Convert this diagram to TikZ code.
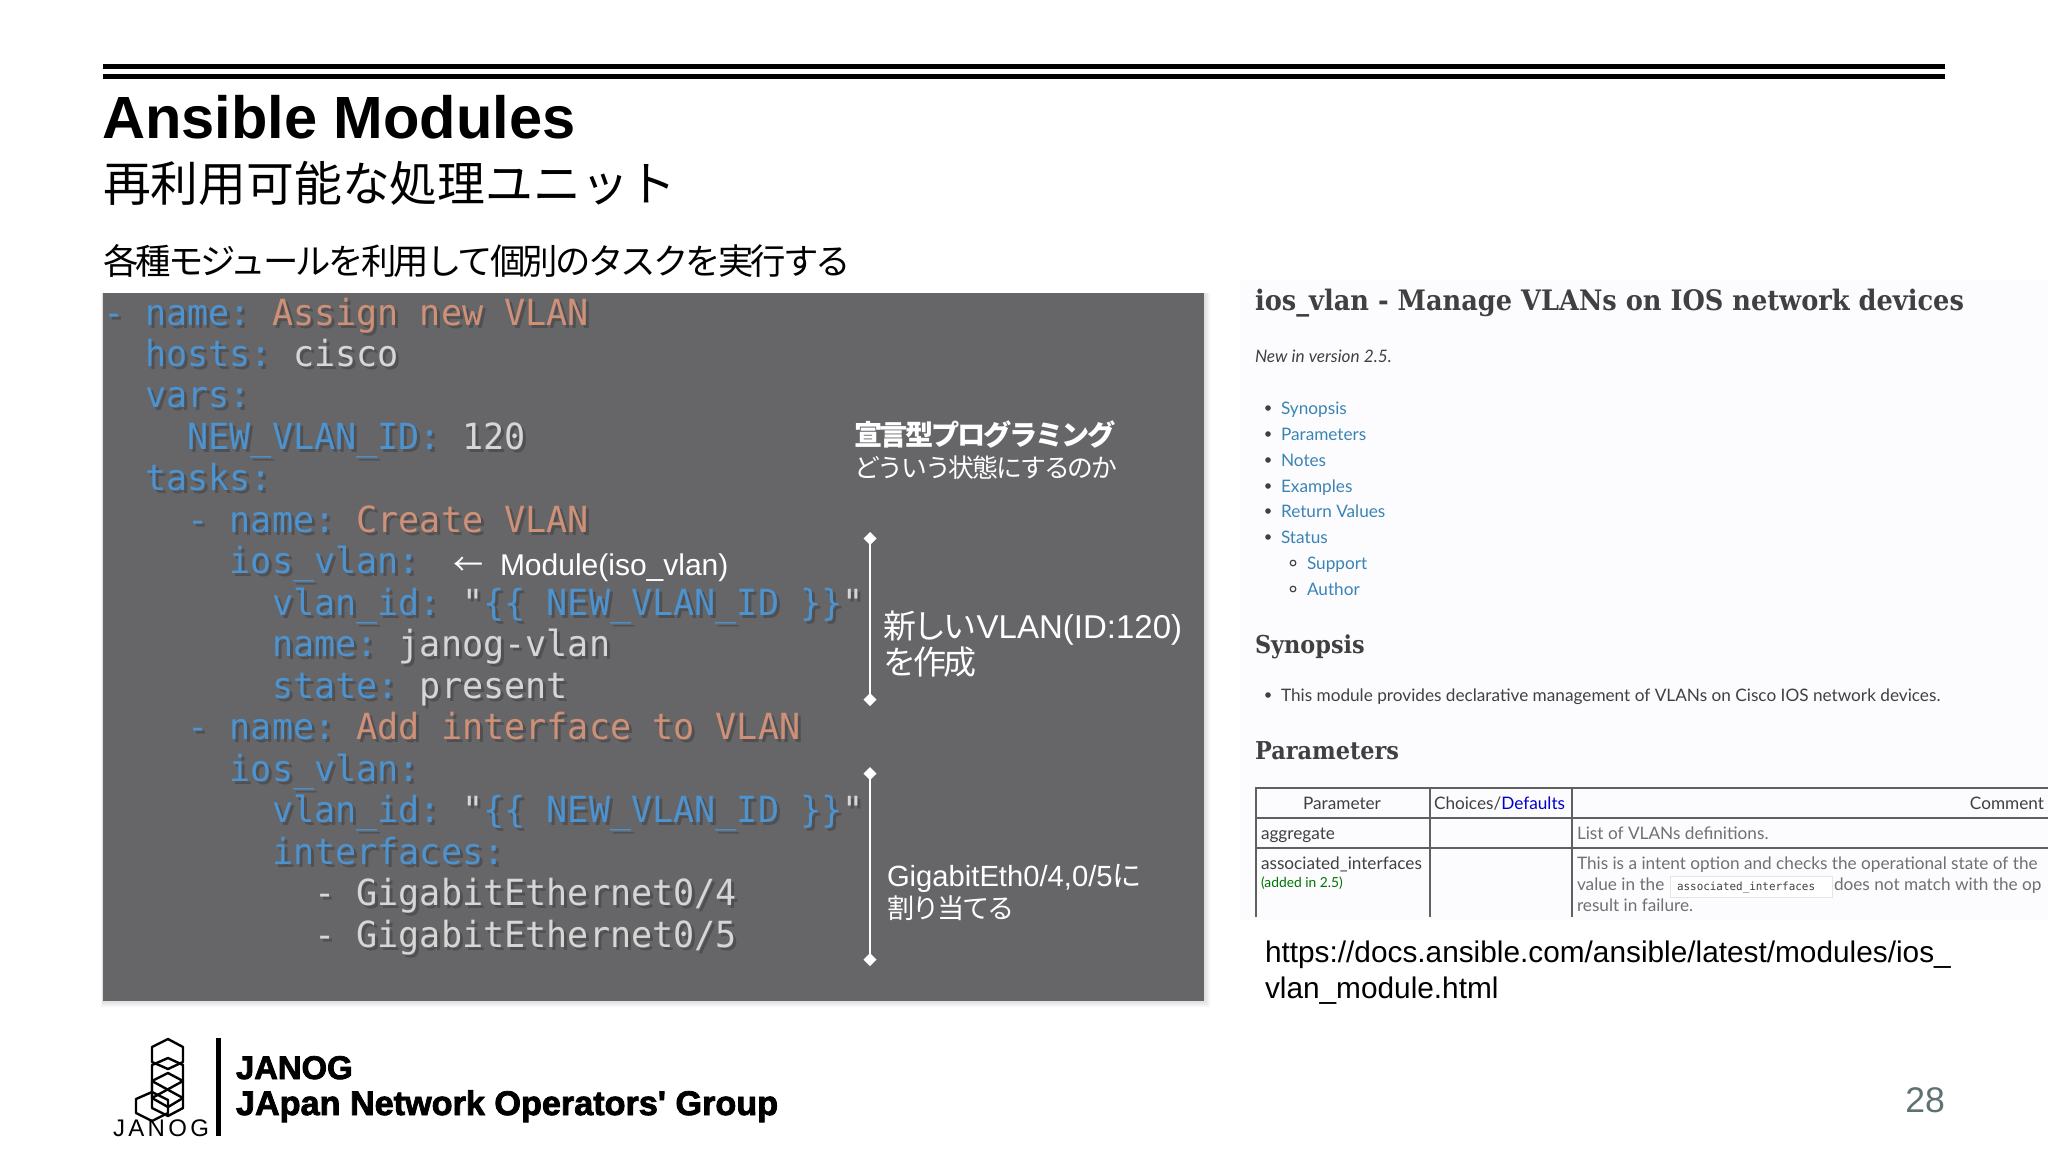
\documentclass[tikz,border=0pt]{standalone}
\usepackage{fontspec}
\usetikzlibrary{arrows.meta}
\setmainfont{Liberation Sans}
\newfontfamily\jpfont[LetterSpace=-8]{Noto Sans CJK JP}
\newfontfamily\jpwide{Noto Sans CJK JP}
\newfontfamily\codefont[FakeStretch=0.975]{DejaVu Sans Mono}
\newfontfamily\slabfont[FakeStretch=0.91]{DejaVu Serif}
\newfontfamily\docfont{Lato}
\newfontfamily\heavyfont[FakeBold=2.4]{Liberation Sans}
\newfontfamily\logofont[LetterSpace=14]{Liberation Sans}
\definecolor{panelgrey}{HTML}{666568}
\definecolor{codekey}{HTML}{4C93CF}
\definecolor{codeval}{HTML}{CE9178}
\definecolor{codetxt}{HTML}{D6D6D6}
\definecolor{textshade}{HTML}{505053}
\definecolor{doctext}{HTML}{404040}
\definecolor{doclink}{HTML}{3A84B5}
\definecolor{docback}{HTML}{FCFCFE}
\definecolor{tableline}{HTML}{606060}
\definecolor{pagenum}{HTML}{5E7371}
\tikzset{
  plain/.style={anchor=base west,inner sep=0pt,outer sep=0pt},
  codetext/.style={plain,font=\codefont\fontsize{18}{18}\selectfont\frenchspacing},
  note/.style={plain,text=white},
  brace/.style={draw=white,line width=1pt,{Diamond[width=6.5pt,length=6.5pt]}-{Diamond[width=6.5pt,length=6.5pt]}},
  doc/.style={plain,text=doctext,font=\docfont\fontsize{8.6}{8.6}\selectfont},
  toc/.style={doc,text=doclink},
  dochead/.style={plain,text=doctext,font=\slabfont\bfseries\fontsize{14.1}{14.1}\selectfont},
  subhead/.style={dochead,font=\slabfont\bfseries\fontsize{12.3}{12.3}\selectfont},
  tablerule/.style={draw=tableline,line width=.7pt},
  logoline/.style={draw=black,line width=1.2pt,line join=round}
}
\newcommand{\ck}[1]{{\color{codekey}#1}}
\newcommand{\cv}[1]{{\color{codeval}#1}}
\newcommand{\codeline}[2]{%
  \node[codetext] (shade#1) at (106,{328+41.47*(#1-1)})
    {\colorlet{codekey}{textshade}\colorlet{codeval}{textshade}\color{textshade}#2};
  \node[codetext,text=codetxt] (code#1) at (103,{325+41.47*(#1-1)}) {#2};
}
\begin{document}
\begin{tikzpicture}[x=.5pt,y=-.5pt]
  \useasboundingbox[fill=white] (0,0) rectangle (2048,1152);
  \fill[docback] (1240,280) rectangle (2048,920);

  % head
  \coordinate (ruleA) at (103,66.5);
  \coordinate (ruleB) at (1945,66.5);
  \coordinate (ruleC) at (103,76.5);
  \coordinate (ruleD) at (1945,76.5);
  \draw[line width=2.6pt] (ruleA) -- (ruleB);
  \draw[line width=2.6pt] (ruleC) -- (ruleD);
  \node[plain,font=\bfseries\fontsize{29.8}{29.8}\selectfont] (title) at (102,138.5) {Ansible Modules};
  \node[plain,font=\jpwide\fontsize{23.9}{23.9}\selectfont] (subtitle) at (103,201) {再利用可能な処理ユニット};
  \node[plain,font=\jpfont\fontsize{17.7}{17.7}\selectfont] (lead) at (103,274) {各種モジュールを利用して個別のタスクを実行する};

  % code panel
  \foreach \d in {2,4,6}
    \fill[black,opacity=.04] (103-\d/3,293) rectangle (1204+\d,1001+\d);
  \fill[panelgrey] (103,293) rectangle (1204,1001);
  \codeline{1}{\ck{- name:} \cv{Assign new VLAN}}
  \codeline{2}{\ \ \ck{hosts:} cisco}
  \codeline{3}{\ \ \ck{vars:}}
  \codeline{4}{\ \ \ \ \ck{NEW\_VLAN\_ID:} 120}
  \codeline{5}{\ \ \ck{tasks:}}
  \codeline{6}{\ \ \ \ \ck{- name:} \cv{Create VLAN}}
  \codeline{7}{\ \ \ \ \ \ \ck{ios\_vlan:}}
  \codeline{8}{\ \ \ \ \ \ \ \ \ck{vlan\_id:} "\ck{\{\{ NEW\_VLAN\_ID \}\}}"}
  \codeline{9}{\ \ \ \ \ \ \ \ \ck{name:} janog-vlan}
  \codeline{10}{\ \ \ \ \ \ \ \ \ck{state:} present}
  \codeline{11}{\ \ \ \ \ck{- name:} \cv{Add interface to VLAN}}
  \codeline{12}{\ \ \ \ \ \ \ck{ios\_vlan:}}
  \codeline{13}{\ \ \ \ \ \ \ \ \ck{vlan\_id:} "\ck{\{\{ NEW\_VLAN\_ID \}\}}"}
  \codeline{14}{\ \ \ \ \ \ \ \ \ck{interfaces:}}
  \codeline{15}{\ \ \ \ \ \ \ \ \ \ - GigabitEthernet0/4}
  \codeline{16}{\ \ \ \ \ \ \ \ \ \ - GigabitEthernet0/5}

  % notes on the panel
  \node[note,font=\jpfont\bfseries\fontsize{14.1}{14.1}\selectfont] (declare) at (854,445) {宣言型プログラミング};
  \node[note,font=\jpfont\fontsize{12.9}{12.9}\selectfont] (state) at (854,477) {どういう状態にするのか};
  \node[note,font=\fontsize{15}{15}\selectfont] (module) at (453,575) {{\jpwide ←}\hspace{8.5pt}Module(iso\_vlan)};
  \coordinate (vlanTop) at (870,532);
  \coordinate (vlanEnd) at (870,706);
  \coordinate (portTop) at (870,767);
  \coordinate (portEnd) at (870,966);
  \draw[brace] (vlanTop) -- (vlanEnd);
  \draw[brace] (portTop) -- (portEnd);
  \node[note,font=\fontsize{16.5}{16.5}\selectfont] (vlanA) at (883,638) {{\jpfont 新しい}VLAN(ID:120)};
  \node[note,font=\jpfont\fontsize{16.5}{16.5}\selectfont] (vlanB) at (883,674) {を作成};
  \node[note,font=\fontsize{14.6}{14.6}\selectfont] (portA) at (887,886) {GigabitEth0/4,0/5{\jpfont に}};
  \node[note,font=\jpfont\fontsize{13.6}{13.6}\selectfont] (portB) at (887,918) {割り当てる};

  % document page
  \node[dochead] (docTitle) at (1255,310) {ios\_vlan - Manage VLANs on IOS network devices};
  \node[doc,font=\docfont\itshape\fontsize{8.6}{8.6}\selectfont] (version) at (1255,362) {New in version 2.5.};
  \foreach \lbl/\ypos in {Synopsis/414,Parameters/440,Notes/466,Examples/492,Return Values/517,Status/543}
    {
      \node[toc] (toc\ypos) at (1281,\ypos) {\lbl};
      \fill[doctext] (1268,\ypos-6) circle (2.8);
    }
  \foreach \lbl/\ypos in {Support/569,Author/595}
    {
      \node[toc] (toc\ypos) at (1307,\ypos) {\lbl};
      \draw[doctext,line width=.6pt] (1293,\ypos-6) circle (2.8);
    }
  \node[subhead] (synHead) at (1255,653) {Synopsis};
  \fill[doctext] (1268,695) circle (2.8);
  \node[doc] (synText) at (1281,701) {This module provides declarative management of VLANs on Cisco IOS network devices.};
  \node[subhead] (parHead) at (1255,759) {Parameters};

  % table
  \draw[tablerule] (1256,917) -- (1256,788) -- (2048,788);
  \draw[tablerule] (1256,818) -- (2048,818);
  \draw[tablerule] (1256,848) -- (2048,848);
  \draw[tablerule] (1430,788) -- (1430,917);
  \draw[tablerule] (1572,788) -- (1572,917);
  \node[doc,anchor=base] (cellPar) at (1342,809) {Parameter};
  \node[doc] (cellChoice) at (1434,809) {Choices/{\color{blue!80!black}Defaults}};
  \node[doc,anchor=base east] (cellComment) at (2044,809) {Comment};
  \node[doc] (cellAgg) at (1261,839) {aggregate};
  \node[doc,text=doctext!75] (cellList) at (1577,839) {List of VLANs definitions.};
  \node[doc] (cellAssoc) at (1261,869) {associated\_interfaces};
  \node[doc,text=green!45!black,font=\docfont\fontsize{6.9}{6.9}\selectfont] (cellAdded) at (1261,887) {(added in 2.5)};
  \node[doc,text=doctext!75] (cellIntent) at (1577,869) {This is a intent option and checks the operational state of the};
  \node[doc,text=doctext!75] (cellValue) at (1577,890) {value in the};
  \draw[gray!20,fill=white,line width=.4pt] (1670,876) rectangle (1832,897);
  \node[plain,text=doctext,font=\codefont\fontsize{5.6}{5.6}\selectfont] (cellCode) at (1677,890) {associated\_interfaces};
  \node[doc,text=doctext!75] (cellMatch) at (1834,890) {does not match with the op};
  \node[doc,text=doctext!75] (cellFail) at (1577,911) {result in failure.};

  % link under the page
  \node[plain,font=\fontsize{14.9}{14.9}\selectfont] (urlA) at (1265,962) {https://docs.ansible.com/ansible/latest/modules/ios\_};
  \node[plain,font=\fontsize{14.9}{14.9}\selectfont] (urlB) at (1265,998) {vlan\_module.html};

  % logo
  \draw[logoline] (168,1039) -- (183,1047) -- (183,1062) -- (168,1069) -- (152,1062) -- (152,1047) -- cycle;
  \draw[logoline] (152,1065) -- (168,1058) -- (183,1065) -- (183,1108) -- (168,1116) -- (152,1108) -- cycle;
  \draw[logoline] (168,1073) -- (183,1081) -- (152,1098) -- (152,1081) -- cycle;
  \draw[logoline] (152,1081) -- (183,1098);
  \draw[logoline] (152,1098) -- (168,1107) -- (183,1098);
  \draw[logoline] (168,1107) -- (168,1116);
  \draw[logoline] (136,1099) -- (152,1092) -- (168,1100) -- (168,1113) -- (152,1121) -- (136,1113) -- cycle;
  \node[plain,font=\logofont\fontsize{12}{12}\selectfont] (logoText) at (113,1136) {JANOG};
  \fill (216,1038) rectangle (221,1136);
  \node[plain,font=\heavyfont\bfseries\fontsize{16.4}{16.4}\selectfont] (janogA) at (236,1079) {JANOG};
  \node[plain,font=\heavyfont\bfseries\fontsize{17.1}{17.1}\selectfont] (janogB) at (236,1115) {JApan Network Operators' Group};
  \node[plain,anchor=base east,text=pagenum,font=\fontsize{17.8}{17.8}\selectfont] (pageNo) at (1945,1112) {28};
\end{tikzpicture}
\end{document}
